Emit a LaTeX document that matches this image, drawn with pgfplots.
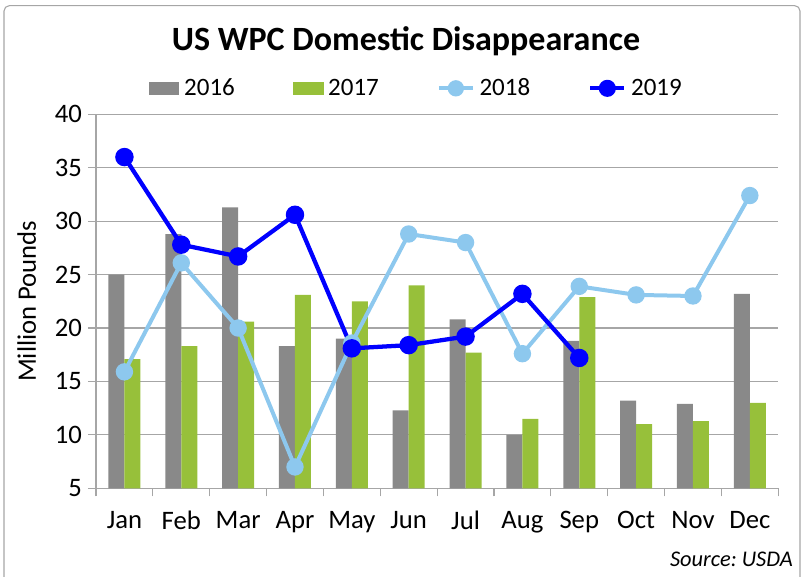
\documentclass[border=0pt]{standalone}
\usepackage{fontspec}
\setmainfont{Carlito}
\usepackage{pgfplots}
\pgfplotsset{compat=1.18}
\definecolor{c2016}{HTML}{898989}
\definecolor{c2017}{HTML}{97C03A}
\definecolor{c2018}{HTML}{8DC8EE}
\definecolor{c2019}{HTML}{0000FF}
\definecolor{gridc}{HTML}{A6A6A6}
\frenchspacing
\begin{document}
\begin{tikzpicture}
\useasboundingbox (0,0) rectangle (603pt,432.75pt);
\draw[gridc, line width=0.8pt, rounded corners=4pt] (3pt,-6pt) rectangle (600pt,428.5pt);
\begin{axis}[
  at={(72pt,66.5pt)}, anchor=south west,
  width=511.7pt, height=280.5pt, scale only axis,
  xmin=-0.5, xmax=11.5, ymin=5, ymax=40,
  ytick={5,10,...,40},
  xtick={-0.5,0.5,...,11.5}, xticklabels={},
  extra x ticks={0,1,...,11},
  extra x tick labels={Jan,Feb,Mar,Apr,May,Jun,Jul,Aug,Sep,Oct,Nov,Dec},
  extra x tick style={major tick length=0pt, grid=none},
  axis x line=bottom, axis y line=left,
  axis line style={draw=gridc, line width=0.9pt, -},
  tick align=outside, major tick length=6pt,
  tick style={draw=gridc, line width=0.9pt},
  ymajorgrids, grid style={draw=gridc, line width=0.9pt},
  /pgf/number format/assume math mode=true,
  tick label style={font=\fontsize{20}{22}\selectfont, text=black},
  xticklabel style={yshift=-13.5pt},
  yticklabel style={xshift=-1pt},
  ylabel={Million Pounds},
  ylabel style={at={(axis description cs:-0.1015,0.5)}, anchor=center, font=\fontsize{20}{22}\selectfont},
  clip=true,
  legend columns=4,
  legend style={at={(0.4695,1.0695)}, anchor=center, draw=none, fill=none,
    font=\fontsize{18.75}{20}\selectfont,
    nodes={inner sep=1.5pt},
    /tikz/every odd column/.append style={column sep=2pt},
    /tikz/every even column/.append style={column sep=42pt}},
]
\addplot[fill=c2016, draw=none, ybar, bar width=12pt, bar shift=-6pt,
  legend image code/.code={\fill[c2016] (0pt,-4.7pt) rectangle (23pt,4.7pt);}]
  coordinates {(0,25.0) (1,28.8) (2,31.3) (3,18.3) (4,19.0) (5,12.3) (6,20.8) (7,10.0) (8,18.8) (9,13.2) (10,12.9) (11,23.2)};
\addlegendentry{2016}
\addplot[fill=c2017, draw=none, ybar, bar width=12pt, bar shift=6pt,
  legend image code/.code={\fill[c2017] (0pt,-4.7pt) rectangle (23pt,4.7pt);}]
  coordinates {(0,17.1) (1,18.3) (2,20.6) (3,23.1) (4,22.5) (5,24.0) (6,17.7) (7,11.5) (8,22.9) (9,11.0) (10,11.3) (11,13.0)};
\addlegendentry{2017}
\addplot[c2018, line width=3pt, mark=*, mark size=5pt, mark options={fill=c2018, draw=none},
  legend image code/.code={\draw[c2018, line width=3pt] (0pt,0pt) -- (25.5pt,0pt); \fill[c2018] (12.75pt,0pt) circle (4.6pt);}]
  coordinates {(0,15.9) (1,26.1) (2,20.0) (3,7.0) (4,18.6) (5,28.8) (6,28.0) (7,17.6) (8,23.9) (9,23.1) (10,23.0) (11,32.4)};
\addlegendentry{2018}
\addplot[c2019, line width=3.2pt, mark=*, mark size=5.3pt, mark options={fill=c2019, draw=none},
  legend image code/.code={\draw[c2019, line width=3.2pt] (0pt,0pt) -- (25.5pt,0pt); \fill[c2019] (12.75pt,0pt) circle (4.8pt);}]
  coordinates {(0,36.0) (1,27.8) (2,26.7) (3,30.6) (4,18.1) (5,18.4) (6,19.2) (7,23.2) (8,17.2)};
\addlegendentry{2019}
\end{axis}
\node[font=\fontsize{25.5}{30}\selectfont\bfseries] at (304.5pt,402pt) {US WPC Domestic Disappearance};
\node[font=\fontsize{16.8}{18}\selectfont\itshape, anchor=base east, inner sep=0pt] at (594.75pt,7.5pt) {Source: USDA};
\end{tikzpicture}
\end{document}
